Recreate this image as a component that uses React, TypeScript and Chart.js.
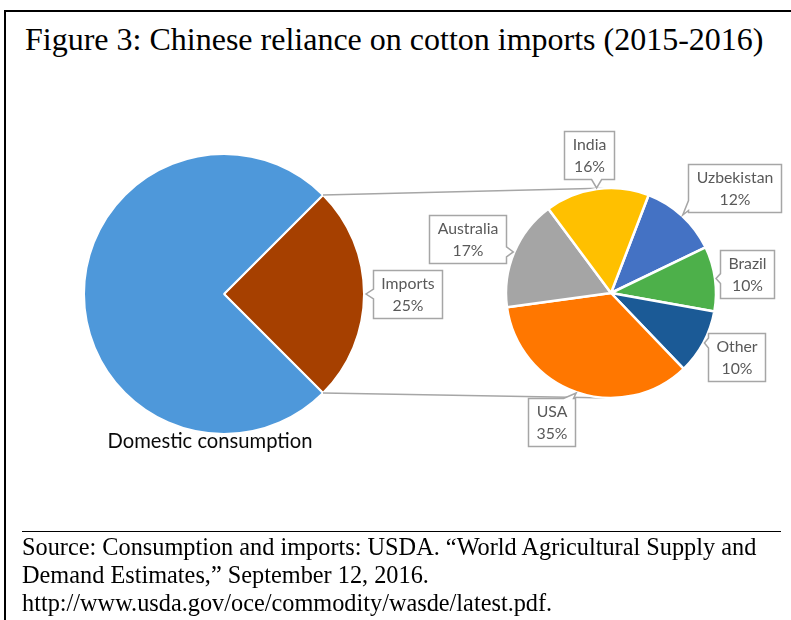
import React, { useEffect, useRef } from "react";
import { Chart, registerables } from "chart.js";

Chart.register(...registerables);

const titleText = "Figure 3: Chinese reliance on cotton imports (2015-2016)";
const sourceLines = [
  "Source: Consumption and imports: USDA. \u201CWorld Agricultural Supply and",
  "Demand Estimates,\u201D September 12, 2016.",
  "http://www.usda.gov/oce/commodity/wasde/latest.pdf.",
];

const mainLabels = ["Imports", "Domestic consumption"];
const mainValues = [25, 75];
const mainColors = ["#A64000", "#4E98DA"];

const importLabels = ["Uzbekistan", "Brazil", "Other", "USA", "Australia", "India"];
const importValues = [12, 10, 10, 35, 17, 16];
const importColors = ["#4472C4", "#4DB04A", "#1B5A96", "#FF7700", "#A5A5A5", "#FFC000"];

// callout placement: [distance beyond rim (px), angular shift (deg)]
const importCalloutOffsets: [number, number][] = [
  [57, 6.8],
  [32, 0],
  [36, -1.2],
  [37, 5.4],
  [48, -2.2],
  [35, -1.5],
];
const importsCalloutOffset: [number, number] = [43.5, 0];

const LABEL_FONT = "15.8px Lato";
const LABEL_COLOR = "#595959";
const CALLOUT_BORDER = "#A6A6A6";

function clamp(v: number, a: number, b: number) {
  return Math.max(a, Math.min(b, v));
}

function drawCallout(
  ctx: CanvasRenderingContext2D,
  lines: string[],
  bx: number,
  by: number,
  tipX: number,
  tipY: number
) {
  ctx.save();
  ctx.font = LABEL_FONT;
  const w = Math.max(...lines.map((l) => ctx.measureText(l).width)) + 16;
  const h = 48;
  const x0 = Math.round(bx - w / 2) + 0.5;
  const y0 = Math.round(by - h / 2) + 0.5;
  const x1 = x0 + Math.round(w);
  const y1 = y0 + h;
  const outY = tipY < y0 ? y0 - tipY : tipY > y1 ? tipY - y1 : 0;
  const outX = tipX < x0 ? x0 - tipX : tipX > x1 ? tipX - x1 : 0;
  let side: "top" | "bottom" | "left" | "right";
  if (outY >= outX && outY > 0) side = tipY < y0 ? "top" : "bottom";
  else side = tipX < x0 ? "left" : "right";
  const hw = 5;
  const pts: [number, number][] = [];
  pts.push([x0, y0]);
  if (side === "top") {
    const c = clamp(tipX, x0 + hw + 2, x1 - hw - 2);
    pts.push([c - hw, y0], [tipX, tipY], [c + hw, y0]);
  }
  pts.push([x1, y0]);
  if (side === "right") {
    const c = clamp(tipY, y0 + hw + 2, y1 - hw - 2);
    pts.push([x1, c - hw], [tipX, tipY], [x1, c + hw]);
  }
  pts.push([x1, y1]);
  if (side === "bottom") {
    const c = clamp(tipX, x0 + hw + 2, x1 - hw - 2);
    pts.push([c + hw, y1], [tipX, tipY], [c - hw, y1]);
  }
  pts.push([x0, y1]);
  if (side === "left") {
    const c = clamp(tipY, y0 + hw + 2, y1 - hw - 2);
    pts.push([x0, c + hw], [tipX, tipY], [x0, c - hw]);
  }
  ctx.beginPath();
  pts.forEach(([x, y], i) => (i === 0 ? ctx.moveTo(x, y) : ctx.lineTo(x, y)));
  ctx.closePath();
  ctx.fillStyle = "#ffffff";
  ctx.fill();
  ctx.strokeStyle = CALLOUT_BORDER;
  ctx.lineWidth = 1.5;
  ctx.lineJoin = "miter";
  ctx.stroke();
  ctx.fillStyle = LABEL_COLOR;
  ctx.textAlign = "center";
  ctx.textBaseline = "middle";
  const cx = (x0 + x1) / 2;
  const cy = (y0 + y1) / 2;
  ctx.fillText(lines[0], cx, cy - 11);
  ctx.fillText(lines[1], cx, cy + 11.5);
  ctx.restore();
}

function pct(v: number, total: number) {
  return Math.round((v / total) * 100) + "%";
}

export default function App() {
  const mainRef = useRef<HTMLCanvasElement>(null);
  const subRef = useRef<HTMLCanvasElement>(null);

  useEffect(() => {
    if (!mainRef.current || !subRef.current) return;
    const mainTotal = mainValues.reduce((a, b) => a + b, 0);
    const subTotal = importValues.reduce((a, b) => a + b, 0);

    const mainPlugin = {
      id: "mainLabels",
      afterDraw(chart: any) {
        const ctx: CanvasRenderingContext2D = chart.ctx;
        const meta = chart.getDatasetMeta(0);
        meta.data.forEach((arc: any, i: number) => {
          const p = arc.getProps(["x", "y", "startAngle", "endAngle", "outerRadius"], true);
          const mid = (p.startAngle + p.endAngle) / 2;
          if (i === 0) {
            const [d, sh] = importsCalloutOffset;
            const a = mid + (sh * Math.PI) / 180;
            const bx = p.x + (p.outerRadius + d) * Math.cos(a);
            const by = p.y + (p.outerRadius + d) * Math.sin(a);
            const tx = p.x + (p.outerRadius + 2) * Math.cos(mid);
            const ty = p.y + (p.outerRadius + 2) * Math.sin(mid);
            drawCallout(ctx, [mainLabels[i], pct(mainValues[i], mainTotal)], bx, by, tx, ty);
          } else {
            ctx.save();
            ctx.font = "20.2px Lato";
            ctx.fillStyle = "#0a0a0a";
            ctx.textAlign = "center";
            ctx.textBaseline = "middle";
            ctx.fillText(mainLabels[i], p.x - 14, p.y + p.outerRadius + 7);
            ctx.restore();
          }
        });
      },
    };

    const mainChart = new Chart(mainRef.current, {
      type: "pie",
      data: {
        labels: mainLabels,
        datasets: [
          {
            data: mainValues,
            backgroundColor: mainColors,
            borderColor: "#ffffff",
            borderWidth: 2,
            radius: 140,
          } as any,
        ],
      },
      options: {
        responsive: false,
        animation: false,
        rotation: 45,
        layout: { padding: { left: 74, top: 144, right: 417, bottom: 176 } },
        plugins: { legend: { display: false }, tooltip: { enabled: false } },
      },
      plugins: [mainPlugin],
    });

    const subPlugin = {
      id: "subLabels",
      beforeDatasetsDraw(chart: any) {
        const ctx: CanvasRenderingContext2D = chart.ctx;
        const big = mainChart.getDatasetMeta(0).data[0] as any;
        const bp = big.getProps(["x", "y", "startAngle", "endAngle", "outerRadius"], true);
        const small = chart.getDatasetMeta(0).data[0] as any;
        const sp = small.getProps(["x", "y", "outerRadius"], true);
        ctx.save();
        ctx.strokeStyle = "#A6A6A6";
        ctx.lineWidth = 1.5;
        ctx.beginPath();
        ctx.moveTo(bp.x + bp.outerRadius * Math.cos(bp.startAngle), bp.y + bp.outerRadius * Math.sin(bp.startAngle));
        ctx.lineTo(sp.x, sp.y - sp.outerRadius);
        ctx.moveTo(bp.x + bp.outerRadius * Math.cos(bp.endAngle), bp.y + bp.outerRadius * Math.sin(bp.endAngle));
        ctx.lineTo(sp.x, sp.y + sp.outerRadius);
        ctx.stroke();
        ctx.restore();
      },
      afterDraw(chart: any) {
        const ctx: CanvasRenderingContext2D = chart.ctx;
        const meta = chart.getDatasetMeta(0);
        meta.data.forEach((arc: any, i: number) => {
          const p = arc.getProps(["x", "y", "startAngle", "endAngle", "outerRadius"], true);
          const mid = (p.startAngle + p.endAngle) / 2;
          const [d, sh] = importCalloutOffsets[i];
          const a = mid + (sh * Math.PI) / 180;
          const bx = p.x + (p.outerRadius + d) * Math.cos(a);
          const by = p.y + (p.outerRadius + d) * Math.sin(a);
          const tx = p.x + (p.outerRadius + 1) * Math.cos(mid);
          const ty = p.y + (p.outerRadius + 1) * Math.sin(mid);
          drawCallout(ctx, [importLabels[i], pct(importValues[i], subTotal)], bx, by, tx, ty);
        });
      },
    };

    const subChart = new Chart(subRef.current, {
      type: "pie",
      data: {
        labels: importLabels,
        datasets: [
          {
            data: importValues,
            backgroundColor: importColors,
            borderColor: "#ffffff",
            borderWidth: 2.5,
            radius: 105,
          } as any,
        ],
      },
      options: {
        responsive: false,
        animation: false,
        rotation: 21,
        layout: { padding: { left: 501, top: 183, right: 70, bottom: 217 } },
        plugins: { legend: { display: false }, tooltip: { enabled: false } },
      },
      plugins: [subPlugin],
    });

    return () => {
      subChart.destroy();
      mainChart.destroy();
    };
  }, []);

  const canvasStyle: React.CSSProperties = {
    position: "absolute",
    left: 0,
    top: 0,
    width: 791,
    height: 620,
  };

  return (
    <div
      style={{
        position: "absolute",
        left: 0,
        top: 0,
        width: 791,
        height: 620,
        background: "#ffffff",
        overflow: "hidden",
      }}
    >
      <div
        style={{
          position: "absolute",
          left: 4,
          top: 10,
          width: 900,
          height: 800,
          borderLeft: "2px solid #000",
          borderTop: "2px solid #000",
        }}
      />
      <div
        style={{
          position: "absolute",
          left: 25,
          top: 23,
          fontFamily: "'Liberation Serif', 'Times New Roman', serif",
          fontSize: 32,
          lineHeight: "32px",
          color: "#000",
          whiteSpace: "nowrap",
        }}
      >
        {titleText}
      </div>
      <canvas ref={mainRef} width={791} height={620} style={canvasStyle} />
      <canvas ref={subRef} width={791} height={620} style={canvasStyle} />
      <div
        style={{
          position: "absolute",
          left: 22,
          top: 531,
          width: 759,
          height: 0,
          borderTop: "1px solid #000",
        }}
      />
      <div
        style={{
          position: "absolute",
          left: 22,
          top: 533,
          fontFamily: "'Liberation Serif', 'Times New Roman', serif",
          fontSize: 24.3,
          lineHeight: "27.8px",
          color: "#000",
          whiteSpace: "nowrap",
        }}
      >
        {sourceLines.map((l, i) => (
          <div key={i}>{l}</div>
        ))}
      </div>
    </div>
  );
}
